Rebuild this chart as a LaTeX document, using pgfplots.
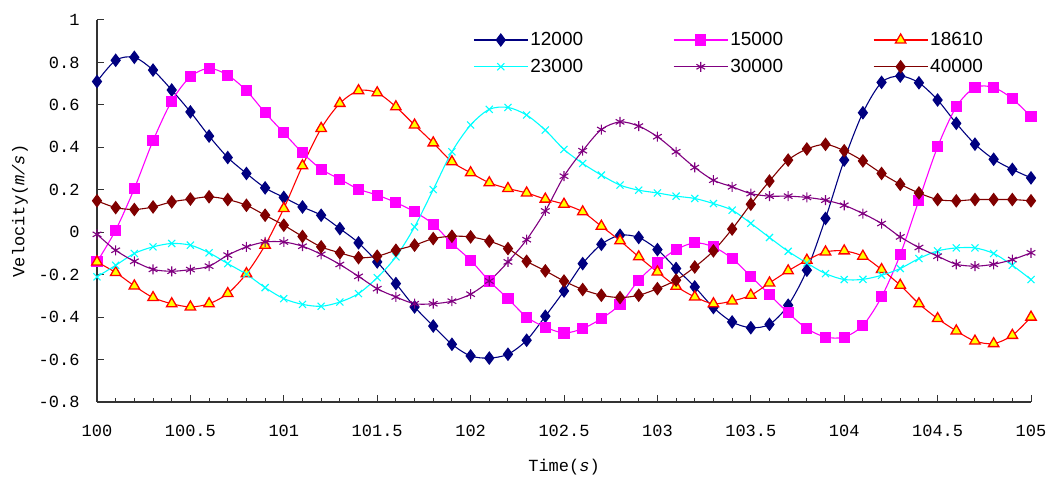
\documentclass[border=0pt]{standalone}
\usepackage{pgfplots}
\usepackage{pgfplotstable}
\pgfplotsset{compat=1.18}
\usetikzlibrary{calc}
\usepackage{fontspec}
\setmainfont{Liberation Sans}
\newfontfamily\tickfont{Liberation Mono}
\definecolor{cnavy}{RGB}{0,0,128}
\definecolor{cmag}{RGB}{255,0,255}
\definecolor{cred}{RGB}{255,0,0}
\definecolor{cyel}{RGB}{255,255,0}
\definecolor{ccyan}{RGB}{0,255,255}
\definecolor{cpurp}{RGB}{128,0,128}
\definecolor{cdred}{RGB}{128,0,0}
\pgfplotstableread{
x a b c d e f
100.0 0.71 -0.14 -0.14 -0.21 -0.01 0.148
100.1 0.81 0.01 -0.19 -0.156 -0.085 0.116
100.2 0.824 0.206 -0.253 -0.10 -0.137 0.107
100.3 0.764 0.431 -0.308 -0.069 -0.175 0.119
100.4 0.67 0.618 -0.337 -0.053 -0.184 0.143
100.5 0.567 0.733 -0.352 -0.061 -0.176 0.156
100.6 0.453 0.772 -0.337 -0.097 -0.16 0.167
100.7 0.352 0.74 -0.289 -0.148 -0.108 0.154
100.8 0.277 0.667 -0.195 -0.198 -0.069 0.127
100.9 0.209 0.563 -0.061 -0.261 -0.046 0.08
101.0 0.164 0.468 0.112 -0.313 -0.046 0.033
101.1 0.119 0.374 0.313 -0.34 -0.066 -0.02
101.2 0.08 0.297 0.489 -0.349 -0.104 -0.069
101.3 0.017 0.25 0.607 -0.329 -0.152 -0.097
101.4 -0.05 0.203 0.667 -0.289 -0.208 -0.12
101.5 -0.14 0.175 0.657 -0.214 -0.266 -0.113
101.6 -0.242 0.14 0.591 -0.116 -0.305 -0.085
101.7 -0.352 0.096 0.505 0.025 -0.337 -0.061
101.8 -0.442 0.038 0.421 0.201 -0.337 -0.03
101.9 -0.528 -0.053 0.332 0.379 -0.325 -0.019
102.0 -0.583 -0.132 0.28 0.505 -0.292 -0.022
102.1 -0.593 -0.23 0.233 0.579 -0.23 -0.042
102.2 -0.575 -0.313 0.206 0.588 -0.14 -0.077
102.3 -0.509 -0.40 0.185 0.552 -0.035 -0.137
102.4 -0.396 -0.447 0.156 0.481 0.10 -0.182
102.5 -0.277 -0.475 0.132 0.39 0.264 -0.23
102.6 -0.148 -0.454 0.096 0.324 0.384 -0.27
102.7 -0.057 -0.407 0.028 0.269 0.484 -0.297
102.8 -0.014 -0.34 -0.04 0.222 0.52 -0.308
102.9 -0.025 -0.226 -0.116 0.198 0.50 -0.297
103.0 -0.082 -0.145 -0.187 0.185 0.45 -0.266
103.1 -0.171 -0.082 -0.255 0.17 0.379 -0.226
103.2 -0.258 -0.05 -0.305 0.159 0.305 -0.164
103.3 -0.355 -0.069 -0.337 0.135 0.245 -0.088
103.4 -0.423 -0.124 -0.324 0.104 0.214 0.015
103.5 -0.45 -0.208 -0.297 0.042 0.182 0.132
103.6 -0.434 -0.294 -0.239 -0.025 0.17 0.241
103.7 -0.344 -0.38 -0.182 -0.09 0.17 0.34
103.8 -0.179 -0.454 -0.132 -0.145 0.164 0.392
103.9 0.065 -0.494 -0.093 -0.195 0.151 0.414
104.0 0.34 -0.494 -0.088 -0.223 0.127 0.384
104.1 0.563 -0.439 -0.113 -0.222 0.088 0.336
104.2 0.706 -0.305 -0.176 -0.203 0.041 0.277
104.3 0.736 -0.105 -0.25 -0.171 -0.022 0.226
104.4 0.704 0.151 -0.337 -0.124 -0.072 0.185
104.5 0.623 0.402 -0.407 -0.088 -0.113 0.154
104.6 0.513 0.591 -0.465 -0.074 -0.151 0.148
104.7 0.415 0.682 -0.513 -0.074 -0.16 0.154
104.8 0.344 0.682 -0.525 -0.10 -0.151 0.154
104.9 0.296 0.629 -0.486 -0.156 -0.129 0.154
105.0 0.256 0.544 -0.40 -0.223 -0.097 0.148
}\data
\begin{document}
\begin{tikzpicture}
\begin{axis}[
  name=ax,
  scale only axis,
  width=934pt, height=382pt,
  xmin=100, xmax=105, ymin=-0.8, ymax=1,
  xtick={100,100.5,...,105},
  xticklabels={100,100.5,101,101.5,102,102.5,103,103.5,104,104.5,105},
  ytick={-0.8,-0.6,...,1.01},
  yticklabels={-0.8,-0.6,-0.4,-0.2,0,0.2,0.4,0.6,0.8,1},
  minor x tick num=4,
  tick align=inside,
  major tick length=7pt, minor tick length=4pt,
  axis x line*=bottom, axis y line*=left,
  axis line style={-, black!80, line width=1.6pt},
  tick style={black!80, line width=1pt},
  xticklabel style={font=\tickfont\fontsize{17}{17}\selectfont, yshift=-20pt},
  yticklabel style={font=\tickfont\fontsize{17}{17}\selectfont, xshift=-14pt},
  xlabel={Time(\textit{s})},
  ylabel={Velocity(\textit{m/s})},
  label style={font=\tickfont\fontsize{17}{17}\selectfont},
  xlabel style={at={(rel axis cs:0.5,0)}, anchor=center, yshift=-65pt},
  ylabel style={at={(rel axis cs:0,0.5)}, anchor=center, yshift=77pt},
  clip=false,
  legend columns=3,
  legend style={draw=none, fill=none, at={(rel axis cs:0.3994,0.978)}, anchor=north west,
    font=\fontsize{19}{19}\selectfont, row sep=8pt,
    /tikz/every even column/.append style={column sep=88pt}},
  legend image code/.code={\draw[mark repeat=2,mark phase=2,line width=1.1pt,#1] plot coordinates {(0pt,0pt) (27pt,0pt) (54pt,0pt)};},
  every axis plot/.append style={line width=1.1pt, smooth, tension=0.5},
]
\addplot[color=cnavy, mark=diamond*, mark size=6pt, mark options={fill=cnavy, draw=cnavy}] table[x=x,y=a]{\data};
\addlegendentry{12000}
\addplot[color=cmag, mark=square*, mark size=5pt, mark options={fill=cmag, draw=cmag}] table[x=x,y=b]{\data};
\addlegendentry{15000}
\addplot[color=cred, mark=triangle*, mark size=6pt, mark options={fill=cyel, draw=cred, line width=1.3pt}] table[x=x,y=c]{\data};
\addlegendentry{18610}
\addplot[color=ccyan, mark=x, mark size=5pt, mark options={draw=ccyan}] table[x=x,y=d]{\data};
\addlegendentry{23000}
\addplot[color=cpurp, mark=asterisk, mark size=5pt, mark options={draw=cpurp}] table[x=x,y=e]{\data};
\addlegendentry{30000}
\addplot[color=cdred, mark=diamond*, mark size=6pt, mark options={fill=cdred, draw=cdred}] table[x=x,y=f]{\data};
\addlegendentry{40000}
\end{axis}
\pgfresetboundingbox
\path ($(ax.south west)+(-97pt,-79pt)$) rectangle ($(ax.north east)+(17pt,20pt)$);
\end{tikzpicture}
\end{document}
